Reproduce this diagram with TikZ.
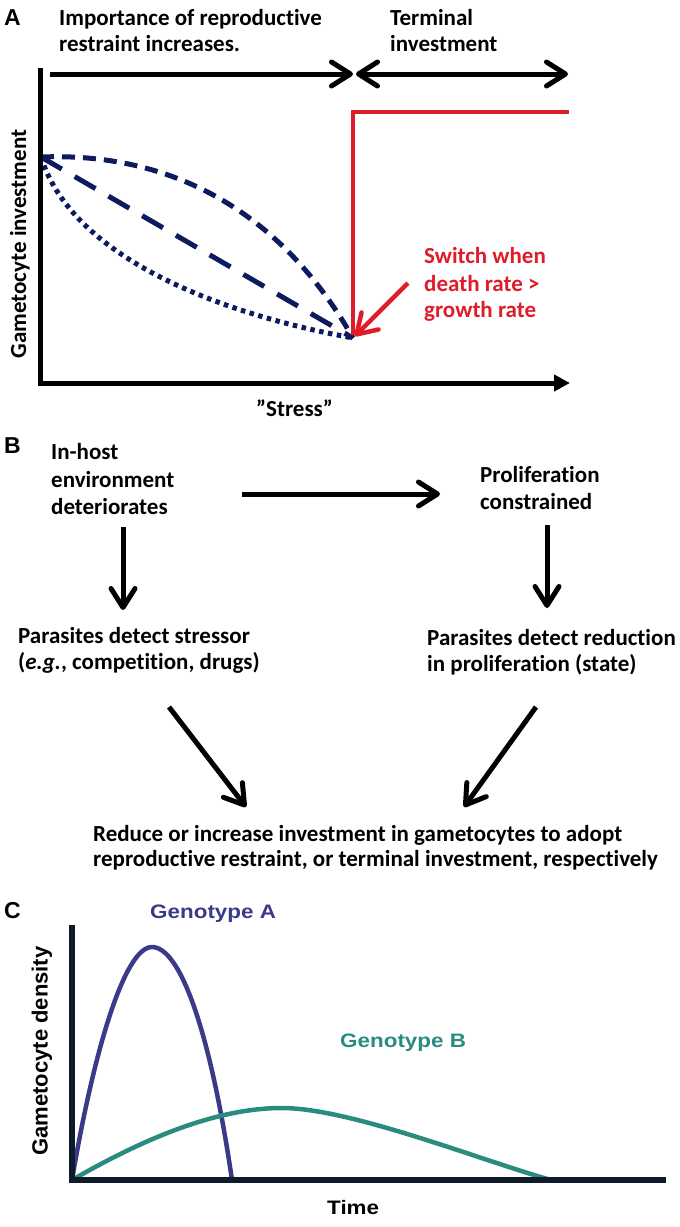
\documentclass[tikz,border=0pt]{standalone}
\usepackage{fontspec}
\usetikzlibrary{arrows.meta}
\newfontfamily\calb{Carlito}[Ligatures={NoCommon}]
\newfontfamily\arialw{Liberation Sans}[FakeStretch=1.15]
\newfontfamily\arialn{Liberation Sans}
\definecolor{navyA}{HTML}{0D1B5E}
\definecolor{redA}{HTML}{E01B2A}
\definecolor{purpA}{HTML}{3B3A88}
\definecolor{tealB}{HTML}{2A8C80}
\definecolor{axisC}{HTML}{0F1B2A}
\begin{document}
\begin{tikzpicture}[x=1pt,y=-1pt,
  cal/.style={inner sep=0pt, anchor=base west, font=\calb\bfseries\fontsize{23}{27}\selectfont},
  ari/.style={inner sep=0pt, anchor=base west, font=\arialw\bfseries\fontsize{19.5}{24}\selectfont},
  lbl/.style={inner sep=0pt, anchor=base west, font=\arialn\bfseries\fontsize{23}{27}\selectfont},
  barb/.style={line width=5pt, -{Straight Barb[round,length=19pt,width=24pt]}},
  dbarb/.style={line width=5pt, {Straight Barb[round,length=19pt,width=24pt]}-{Straight Barb[round,length=19pt,width=24pt]}},
  curveA/.style={draw=navyA, line width=5pt},
  curveC/.style={line width=4.5pt},
]
\useasboundingbox[fill=white] (0,0) rectangle (680,1227);

% ---------------- Panel A ----------------
\node[lbl] (labA) at (4,25) {A};
\node[cal] (impo1) at (59,25) {Importance of reproductive};
\node[cal] (impo2) at (59,51) {restraint increases.};
\node[cal] (term1) at (390,25) {Terminal};
\node[cal] (term2) at (390,51) {investment};
\coordinate (ta0) at (50,74);
\coordinate (ta1) at (353,74);
\coordinate (ta2) at (356,74);
\coordinate (ta3) at (568,74);
\draw[barb] (ta0) -- (ta1);
\draw[dbarb] (ta2) -- (ta3);

% curves
\coordinate (cs) at (41,157);
\coordinate (ce) at (353,338);
\draw[curveA, dash pattern=on 13pt off 8pt] (cs) .. controls (170,152) and (280,210) .. (ce);
\draw[curveA, dash pattern=on 24pt off 15pt] (cs) -- (ce);
\draw[curveA, dash pattern=on 4.5pt off 4.5pt] (cs) .. controls (70,250) and (200,310) .. (ce);

% red
\coordinate (rv0) at (353,335);
\coordinate (rv1) at (353,112);
\coordinate (rv2) at (569,112);
\draw[redA, line width=4pt, line join=miter] (rv0) -- (rv1) -- (rv2);
\coordinate (ra0) at (408,283);
\coordinate (ra1) at (355,336);
\draw[redA, barb, line width=4.5pt] (ra0) -- (ra1);
\node[cal, text=redA] (sw1) at (424,263) {Switch when};
\node[cal, text=redA] (sw2) at (424,291) {death rate >};
\node[cal, text=redA] (sw3) at (424,317) {growth rate};

% axes
\coordinate (Ay) at (40,68);
\coordinate (Ao) at (40,383);
\coordinate (Ax) at (570,383);
\draw[line width=5pt, line join=miter, -{Triangle[length=16pt,width=16pt]}] (Ay) -- (Ao) -- (Ax);
\node[cal, anchor=base, rotate=90] (ylabA) at (26,244) {Gametocyte investment};
\node[cal] (stress) at (256,416) {”Stress”};

% ---------------- Panel B ----------------
\node[lbl] (labB) at (4,453) {B};
\node[cal] (in1) at (51,459) {In-host};
\node[cal] (in2) at (51,487) {environment};
\node[cal] (in3) at (51,514) {deteriorates};
\node[cal] (pr1) at (480,482) {Proliferation};
\node[cal] (pr2) at (480,509) {constrained};
\node[cal] (ps1) at (18,643) {Parasites detect stressor};
\node[cal] (ps2) at (18,669) {(\textit{e.g.}, competition, drugs)};
\node[cal] (pd1) at (427,645) {Parasites detect reduction};
\node[cal] (pd2) at (427,671) {in proliferation (state)};
\node[cal] (rd1) at (93,841) {Reduce or increase investment in gametocytes to adopt};
\node[cal] (rd2) at (93,866) {reproductive restraint, or terminal investment, respectively};

\coordinate (h0) at (242,494);
\coordinate (h1) at (440,494);
\coordinate (dl0) at (123,527);
\coordinate (dl1) at (123,610);
\coordinate (dr0) at (547,525);
\coordinate (dr1) at (547,608);
\coordinate (gl0) at (169,707);
\coordinate (gl1) at (246,807);
\coordinate (gr0) at (536,707);
\coordinate (gr1) at (464,807);
\draw[barb] (h0) -- (h1);
\draw[barb] (dl0) -- (dl1);
\draw[barb] (dr0) -- (dr1);
\draw[barb] (gl0) -- (gl1);
\draw[barb] (gr0) -- (gr1);

% ---------------- Panel C ----------------
\node[lbl] (labC) at (4,918) {C};
\node[ari, text=purpA] (genA) at (150,918) {Genotype A};
\node[ari, text=tealB] (genB) at (340,1047) {Genotype B};
\node[ari] (time) at (327,1214) {Time};
\node[inner sep=0pt, anchor=base, rotate=90, font=\arialn\bfseries\fontsize{22}{26}\selectfont] (ylabC) at (47.5,1051) {Gametocyte density};

\coordinate (Cy) at (72,925);
\coordinate (Co) at (72,1180);
\coordinate (Cx) at (666,1180);
\coordinate (pkA) at (152,947);
\coordinate (enA) at (232,1180);
\coordinate (pkB) at (282,1108);
\coordinate (enB) at (551,1180);
\draw[curveC, draw=purpA] (Co) .. controls (93,1055) and (124,947) .. (pkA) .. controls (180,947) and (210,1030) .. (enA);
\draw[curveC, draw=tealB] (Co) .. controls (150,1135) and (220,1108) .. (pkB) .. controls (350,1108) and (480,1160) .. (enB);
\draw[axisC, line width=5.5pt, line join=miter] (Cy) -- (Co) -- (Cx);
\end{tikzpicture}
\end{document}
